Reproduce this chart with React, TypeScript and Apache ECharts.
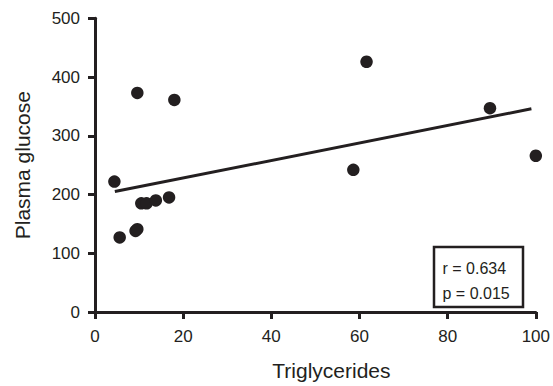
import React, { useEffect, useRef } from "react";
import * as echarts from "echarts";

const triglycerides = [4.4, 5.6, 9.2, 9.6, 9.6, 10.5, 11.7, 13.8, 16.8, 18.0, 58.6, 61.6, 89.6, 100];
const glucose = [222, 127, 138, 141, 373, 185, 185, 190, 195, 361, 242, 426, 347, 266];
const fitX = [4.5, 99];
const fitY = [205, 346];
const xTicks = [0, 20, 40, 60, 80, 100];
const yTicks = [0, 100, 200, 300, 400, 500];
const statLines = ["r = 0.634", "p = 0.015"];

export default function App() {
  const ref = useRef<HTMLDivElement>(null);
  useEffect(() => {
    if (!ref.current) return;
    const chart = echarts.init(ref.current, undefined, { renderer: "svg" });
    const ink = "#231f20";
    const font = "'Liberation Sans', Arial, Helvetica, sans-serif";
    chart.setOption({
      animation: false,
      grid: { left: 95, right: 14.5, top: 18.3, bottom: 72.7, containLabel: false },
      xAxis: {
        type: "value",
        min: xTicks[0],
        max: xTicks[xTicks.length - 1],
        interval: 20,
        name: "Triglycerides",
        nameLocation: "middle",
        nameGap: 48,
        nameTextStyle: { color: ink, fontSize: 21, fontFamily: font, padding: [0, 0, 0, 32] },
        axisLine: { show: true, lineStyle: { color: ink, width: 3 } },
        axisTick: { show: true, length: 7, lineStyle: { color: ink, width: 3 } },
        axisLabel: { color: ink, fontSize: 17, fontFamily: font, margin: 16 },
        splitLine: { show: false },
      },
      yAxis: {
        type: "value",
        min: yTicks[0],
        max: yTicks[yTicks.length - 1],
        interval: 100,
        name: "Plasma glucose",
        nameLocation: "middle",
        nameGap: 62,
        nameTextStyle: { color: ink, fontSize: 21, fontFamily: font },
        axisLine: { show: true, lineStyle: { color: ink, width: 3 } },
        axisTick: { show: true, length: 7, lineStyle: { color: ink, width: 3 } },
        axisLabel: { color: ink, fontSize: 17, fontFamily: font, margin: 15 },
        splitLine: { show: false },
      },
      series: [
        {
          type: "line",
          data: fitX.map((x, i) => [x, fitY[i]]),
          showSymbol: false,
          symbol: "none",
          lineStyle: { color: ink, width: 3 },
          z: 2,
        },
        {
          type: "scatter",
          data: triglycerides.map((x, i) => [x, glucose[i]]),
          symbol: "circle",
          symbolSize: 12.5,
          itemStyle: { color: ink, opacity: 1 },
          z: 3,
        },
      ],
      graphic: [
        {
          type: "rect",
          shape: { x: 434, y: 247, width: 89, height: 60 },
          style: { fill: "#fff", stroke: ink, lineWidth: 2.5 },
          z: 10,
        },
        {
          type: "text",
          x: 442.5,
          y: 268,
          style: { text: statLines[0], fill: ink, fontSize: 16, fontFamily: font, textVerticalAlign: "middle" },
          z: 11,
        },
        {
          type: "text",
          x: 442.5,
          y: 293.5,
          style: { text: statLines[1], fill: ink, fontSize: 16, fontFamily: font, textVerticalAlign: "middle" },
          z: 11,
        },
      ],
    });
    return () => chart.dispose();
  }, []);
  return <div ref={ref} style={{ width: 553, height: 386, position: "absolute", left: 0, top: 0 }} />;
}
